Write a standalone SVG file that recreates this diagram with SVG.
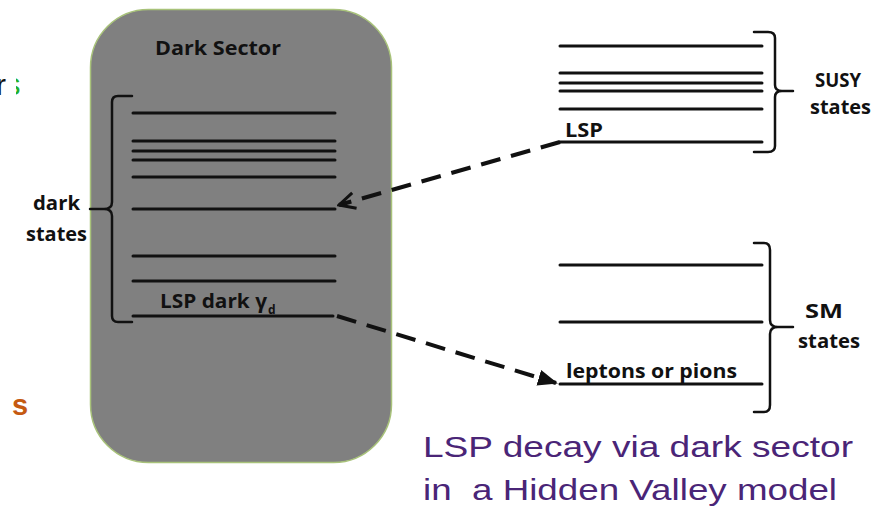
<svg xmlns="http://www.w3.org/2000/svg" width="877" height="506" viewBox="0 0 877 506">
  <style>
    .lvl { stroke: #111; stroke-width: 3; stroke-linecap: round; fill: none; }
    .brace { stroke: #111; stroke-width: 2.5; fill: none; stroke-linejoin: round; stroke-linecap: round; }
    .lbl { font-family: "Open Sans", "Liberation Sans", sans-serif; font-weight: 700; fill: #111; font-size: 19px; }
    .dash { stroke: #111; stroke-width: 4; stroke-dasharray: 20 11; fill: none; }
    .cap { font-family: "Liberation Sans", Arial, sans-serif; fill: #4a2577; font-size: 30px; }
  </style>
  <defs>
    <marker id="openHead" viewBox="0 0 20 20" refX="18" refY="10" markerWidth="5" markerHeight="5" markerUnits="strokeWidth" orient="auto">
      <path d="M2 2 L18 10 L2 18" fill="none" stroke="#111" stroke-width="3"/>
    </marker>
    <marker id="solidHead" viewBox="0 0 20 20" refX="18" refY="10" markerWidth="5" markerHeight="5" markerUnits="strokeWidth" orient="auto">
      <path d="M0 2 L20 10 L0 18 Z" fill="#111"/>
    </marker>
    <clipPath id="edgeClip"><rect x="16" y="60" width="8" height="40"/></clipPath>
  </defs>

  <rect width="877" height="506" fill="#fff"/>

  <!-- clipped remnants at the left edge -->
  <text x="-4" y="95" font-family="'Liberation Sans', sans-serif" font-size="30" fill="#111">r</text>
  <text x="5" y="95" font-family="'Liberation Sans', sans-serif" font-size="31" fill="#1fb02a" clip-path="url(#edgeClip)">s</text>
  <text x="12" y="415" font-family="'Liberation Sans', sans-serif" font-size="29" font-weight="700" fill="#c55a11">s</text>

  <!-- dark sector panel -->
  <g id="dark-sector">
    <rect x="90.5" y="9.5" width="301" height="453" rx="58" ry="58" fill="#808080" stroke="#a8c27a" stroke-width="1.5"/>
    <text class="lbl" x="155" y="55" textLength="126" lengthAdjust="spacingAndGlyphs">Dark Sector</text>
    <path class="lvl" d="M133 113 H335 M133 141 H335 M133 151 H335 M133 160 H335 M133 177 H335 M133 209 H335 M133 256 H335 M133 281 H335 M133 316 H333"/>
    <path class="brace" d="M132 96 H118 Q112 96 112 102 V202 Q112 209 104 209 H90 M104 209 Q112 209 112 216 V316 Q112 322 118 322 H132"/>
    <text class="lbl" x="160" y="308" textLength="107" lengthAdjust="spacingAndGlyphs">LSP dark γ</text>
    <text class="lbl" x="268" y="314" style="font-size:12px">d</text>
  </g>

  <g id="dark-states-label">
    <text class="lbl" x="33" y="210" textLength="47" lengthAdjust="spacingAndGlyphs">dark</text>
    <text class="lbl" x="26" y="241" textLength="61" lengthAdjust="spacingAndGlyphs">states</text>
  </g>

  <!-- SUSY spectrum -->
  <g id="susy-states">
    <path class="lvl" d="M560 46 H762 M560 73 H762 M560 83 H762 M560 91 H762 M560 109 H762 M560 142 H762"/>
    <path class="brace" d="M754 32 H768 Q775 32 775 38 V85 Q775 91 782 91 H793 M782 91 Q775 91 775 97 V146 Q775 152 768 152 H754"/>
    <text class="lbl" x="565" y="137" textLength="38" lengthAdjust="spacingAndGlyphs">LSP</text>
    <text class="lbl" x="815" y="87" textLength="46" lengthAdjust="spacingAndGlyphs">SUSY</text>
    <text class="lbl" x="810" y="114" textLength="61" lengthAdjust="spacingAndGlyphs">states</text>
  </g>

  <!-- Standard Model spectrum -->
  <g id="sm-states">
    <path class="lvl" d="M560 265 H762 M560 322 H762 M560 384 H762"/>
    <path class="brace" d="M754 243 H764 Q770 243 770 250 V320 Q770 327 778 327 H793 M778 327 Q770 327 770 334 V405 Q770 412 764 412 H754"/>
    <text class="lbl" x="566" y="378" textLength="171" lengthAdjust="spacingAndGlyphs">leptons or pions</text>
    <text class="lbl" x="805" y="318" textLength="38" lengthAdjust="spacingAndGlyphs">SM</text>
    <text class="lbl" x="798" y="348" textLength="62" lengthAdjust="spacingAndGlyphs">states</text>
  </g>

  <!-- decay connectors -->
  <g id="connectors">
    <path class="dash" d="M560 142 L339 205" marker-end="url(#openHead)"/>
    <path class="dash" d="M337 316 L556 383" marker-end="url(#solidHead)"/>
  </g>

  <g id="caption">
    <text class="cap" x="423" y="457" textLength="430" lengthAdjust="spacingAndGlyphs">LSP decay via dark sector</text>
    <text class="cap" x="423" y="500" xml:space="preserve" textLength="414" lengthAdjust="spacingAndGlyphs">in  a Hidden Valley model</text>
  </g>
</svg>
